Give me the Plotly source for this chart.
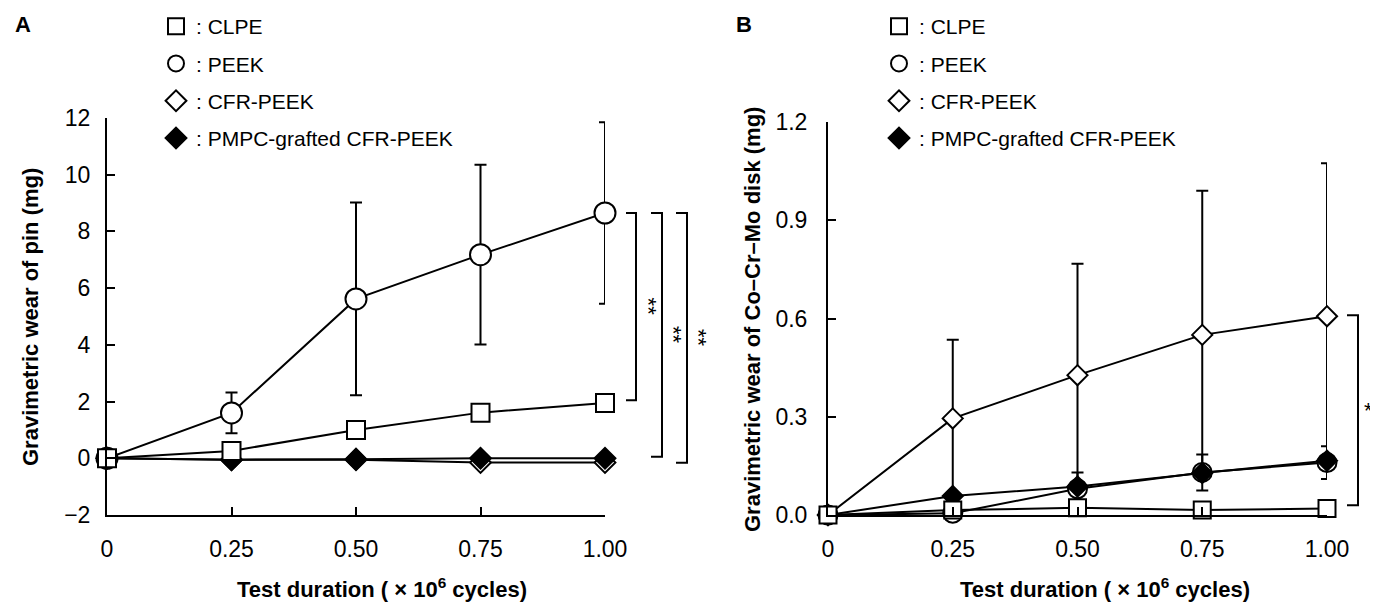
import plotly.graph_objects as go

FONT = "Liberation Sans, Arial, sans-serif"
OFF = 8                      # page body margin in the browser
W, H = 1378 - OFF, 605 - OFF


def px(xpix):                # target-pixel x -> paper fraction
    return (xpix - OFF) / W


def py(ypix):                # target-pixel y -> paper fraction
    return 1 - (ypix - OFF) / H


# ---------------- data ----------------
cycles = [0, 0.25, 0.5, 0.75, 1.0]
x_tick_text = ["0", "0.25", "0.50", "0.75", "1.00"]
series_names = ["CLPE", "PEEK", "CFR-PEEK", "PMPC-grafted CFR-PEEK"]

# Panel A: gravimetric wear of pin (mg)
pin_clpe = [0, 0.26, 1.0, 1.61, 1.95]
pin_peek = [0, 1.6, 5.62, 7.18, 8.65]
pin_peek_sd = [0, 0.72, 3.4, 3.17, 3.2]
pin_cfr = [0, -0.05, -0.05, -0.15, -0.15]
pin_pmpc = [0, -0.05, -0.03, 0.0, 0.0]
pin_yticks = [-2, 0, 2, 4, 6, 8, 10, 12]
pin_yticktext = ["\u22122", "0", "2", "4", "6", "8", "10", "12"]

# Panel B: gravimetric wear of Co-Cr-Mo disk (mg)
disk_clpe = [0, 0.015, 0.022, 0.015, 0.02]
disk_peek = [0, 0.005, 0.08, 0.13, 0.16]
disk_peek_sd = [0, 0.01, 0.05, 0.055, 0.05]
disk_cfr = [0, 0.295, 0.427, 0.55, 0.607]
disk_cfr_sd = [0, 0.24, 0.34, 0.44, 0.467]
disk_pmpc = [0, 0.058, 0.087, 0.128, 0.166]
disk_yticks = [0.0, 0.3, 0.6, 0.9, 1.2]
disk_yticktext = ["0.0", "0.3", "0.6", "0.9", "1.2"]

# ---------------- styles ----------------
sym = {"CLPE": "square", "PEEK": "circle", "CFR-PEEK": "diamond",
       "PMPC-grafted CFR-PEEK": "diamond"}
fill = {"CLPE": "white", "PEEK": "white", "CFR-PEEK": "white",
        "PMPC-grafted CFR-PEEK": "black"}
size_a = {"CLPE": 18, "PEEK": 21, "CFR-PEEK": 16, "PMPC-grafted CFR-PEEK": 16}
size_b = {"CLPE": 17, "PEEK": 19, "CFR-PEEK": 15.5, "PMPC-grafted CFR-PEEK": 15.5}

fig = go.Figure()


def add_series(name, y, sd, xa, ya, sizes):
    err = None
    if sd is not None:
        err = dict(type="data", array=sd, arrayminus=sd, visible=True,
                   color="black", thickness=2, width=6)
    fig.add_trace(go.Scatter(
        x=cycles, y=y, mode="lines+markers", name=name, showlegend=False,
        xaxis=xa, yaxis=ya, cliponaxis=False,
        line=dict(color="black", width=2),
        marker=dict(symbol=sym[name], size=sizes[name], color=fill[name],
                    line=dict(color="black", width=2)),
        error_y=err,
    ))


# Panel A (draw order: PEEK, CFR-PEEK, PMPC, CLPE)
add_series("PEEK", pin_peek, pin_peek_sd, "x", "y", size_a)
add_series("CFR-PEEK", pin_cfr, None, "x", "y", size_a)
add_series("PMPC-grafted CFR-PEEK", pin_pmpc, None, "x", "y", size_a)
add_series("CLPE", pin_clpe, None, "x", "y", size_a)

# Panel B
add_series("CFR-PEEK", disk_cfr, disk_cfr_sd, "x2", "y2", size_b)
add_series("PEEK", disk_peek, disk_peek_sd, "x2", "y2", size_b)
add_series("PMPC-grafted CFR-PEEK", disk_pmpc, None, "x2", "y2", size_b)
add_series("CLPE", disk_clpe, None, "x2", "y2", size_b)

# legend-only marker entries
for lg in ["legend", "legend2"]:
    for i, name in enumerate(series_names):
        fig.add_trace(go.Scatter(
            x=[None], y=[None], mode="markers", name=": " + name,
            legend=lg, legendgroup=lg + str(i), showlegend=True,
            xaxis="x" if lg == "legend" else "x2",
            yaxis="y" if lg == "legend" else "y2",
            marker=dict(symbol=sym[name], size=16, color=fill[name],
                        line=dict(color="black", width=2)),
        ))

axis_common = dict(showline=True, linecolor="black", linewidth=2,
                   ticks="inside", ticklen=8, tickwidth=2, tickcolor="black",
                   showgrid=False, zeroline=False, automargin=False,
                   tickfont=dict(family=FONT, size=23, color="black"))

xa_dom = [px(107), px(605)]
xb_dom = [px(828), px(1327)]
ya_dom = [py(515), py(118)]
yb_dom = [py(515), py(122)]

legend_common = dict(xanchor="left", yanchor="top", bgcolor="rgba(0,0,0,0)",
                     font=dict(family=FONT, size=21, color="black"),
                     traceorder="grouped", tracegroupgap=7, itemwidth=30)

fig.update_layout(
    template="none",
    width=W, height=H, margin=dict(l=0, r=0, t=0, b=0, pad=0, autoexpand=False),
    plot_bgcolor="white", paper_bgcolor="white",
    font=dict(family=FONT, color="black"),
    xaxis=dict(domain=xa_dom, range=[0, 1], anchor="y", tickvals=cycles,
               ticktext=x_tick_text, ticklabelstandoff=12, **axis_common),
    yaxis=dict(domain=ya_dom, range=[-2, 12], anchor="x", tickvals=pin_yticks,
               ticktext=pin_yticktext, ticklabelstandoff=10, **axis_common),
    xaxis2=dict(domain=xb_dom, range=[0, 1], anchor="y2", tickvals=cycles,
                ticktext=x_tick_text, ticklabelstandoff=12, **axis_common),
    yaxis2=dict(domain=yb_dom, range=[0, 1.2], anchor="x2", tickvals=disk_yticks,
                ticktext=disk_yticktext, ticklabelstandoff=14, **axis_common),
    legend=dict(x=px(156), y=py(6), **legend_common),
    legend2=dict(x=px(879), y=py(6), **legend_common),
)


# significance brackets (x in paper, y in data units)
def bracket(x0, x1, ytop, ybot, yref, text, lx, angle):
    fig.add_shape(type="path", xref="paper", yref=yref,
                  path=f"M {px(x0)} {ytop} L {px(x1)} {ytop} L {px(x1)} {ybot} L {px(x0)} {ybot}",
                  line=dict(color="black", width=2))
    fig.add_annotation(x=px(lx), y=(ytop + ybot) / 2, xref="paper", yref=yref,
                       xanchor="center", yanchor="middle",
                       text=text, showarrow=False, textangle=angle,
                       font=dict(family=FONT, size=22, color="black"))


bracket(626, 636, 8.65, 2.05, "y", "**", 648, 90)
bracket(651, 662, 8.65, 0.05, "y", "**", 673, 90)
bracket(676, 687, 8.65, -0.16, "y", "**", 698, 90)
bracket(1347, 1358, 0.61, 0.03, "y2", "*", 1368, 0)


def label(xpix, ypix, text, size, angle=0):
    fig.add_annotation(x=px(xpix), y=py(ypix), xref="paper", yref="paper",
                       xanchor="center", yanchor="middle", text=text,
                       textangle=angle, showarrow=False,
                       font=dict(family=FONT, size=size, color="black"))


xtitle = "<b>Test duration ( \u00d7 10<sup>6</sup> cycles)</b>"
label(382, 588, xtitle, 22)
label(1105, 588, xtitle, 22)
label(30, 317, "<b>Gravimetric wear of pin (mg)</b>", 22, -90)
label(752, 320, "<b>Gravimetric wear of Co\u2013Cr\u2013Mo disk (mg)</b>", 22, -90)
label(23, 24, "<b>A</b>", 22)
label(744, 24, "<b>B</b>", 22)

fig.write_html("out.html")
